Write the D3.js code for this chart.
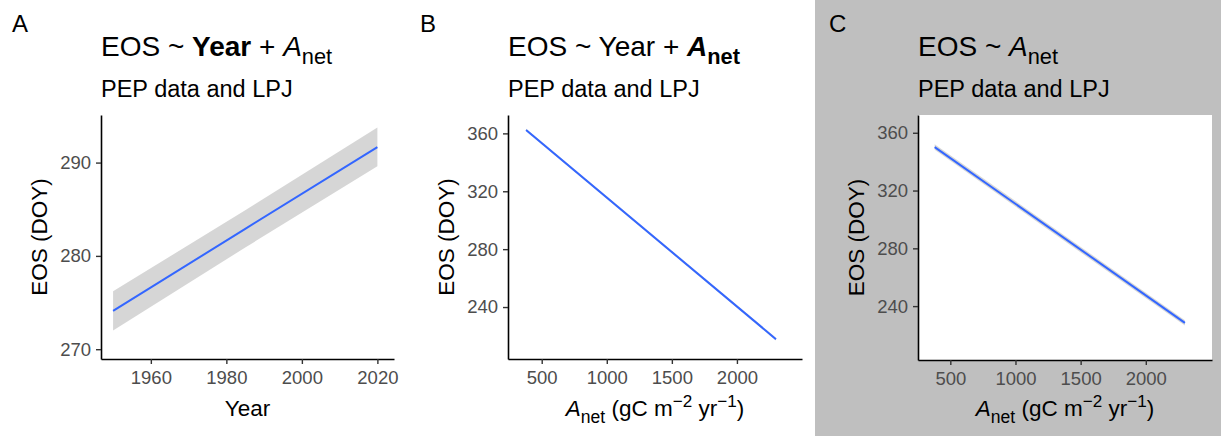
<!DOCTYPE html>
<html lang="en">
<head>
<meta charset="UTF-8">
<script src="https://d3js.org/d3.v7.min.js"></script>
<title>EOS models</title>
<style>
  body { margin: 0; background: #fff; }
  svg text { font-family: "Liberation Sans", Arial, sans-serif; }
</style>
</head>
<body>
<div id="chart"></div>
<script>
// ---- data ----
var yearTicks = [1960, 1980, 2000, 2020];
var eosTicksA = [270, 280, 290];
var anetTicks = [500, 1000, 1500, 2000];
var eosTicksBC = [240, 280, 320, 360];

// panel A: EOS vs Year (fit + confidence band)
var yearA = [1950, 1985, 2020];
var fitA = [274.1, 282.9, 291.65];
var lowA = [272.0, 280.9, 289.6];
var highA = [276.2, 284.9, 293.75];

// panel B: EOS vs Anet (multi model)
var anetB = [380, 2300];
var fitB = [362.3, 217.8];
var lowB = [361.4, 216.9];
var highB = [363.2, 218.7];

// panel C: EOS vs Anet (single predictor)
var anetC = [380, 2300];
var fitC = [350.1, 228.4];
var lowC = [348.2, 226.5];
var highC = [352.0, 230.3];

var W = 1221, H = 436;
var svg = d3.select("#chart").append("svg")
    .attr("width", W).attr("height", H);

// gray background behind panel C
svg.append("rect")
    .attr("x", 815).attr("y", 0)
    .attr("width", W - 815).attr("height", H)
    .attr("fill", "#bfbfbf");

// write a line of mixed-format text with tspans
function richText(g, x, y, size, parts, anchor) {
    var t = g.append("text")
        .attr("x", x).attr("y", y)
        .attr("font-size", size + "px")
        .attr("fill", "#000")
        .attr("text-anchor", anchor || "start");
    var shift = 0;
    parts.forEach(function(p) {
        var s = t.append("tspan").text(p.t);
        var want = 0, fs = size;
        if (p.sub) { want = size * 0.3; fs = size * 0.78; }
        if (p.sup) { want = -size * 0.4; fs = size * 0.76; }
        s.attr("font-size", fs + "px");
        if (want - shift !== 0) s.attr("dy", (want - shift) + "px");
        shift = want;
        if (p.b) s.attr("font-weight", "bold");
        if (p.i) s.attr("font-style", "italic");
    });
    return t;
}

function drawPanel(cfg) {
    var g = svg.append("g");
    var x = d3.scaleLinear().domain(cfg.xDomain).range([cfg.left, cfg.right]);
    var y = d3.scaleLinear().domain(cfg.yDomain).range([cfg.bottom, cfg.top]);

    if (cfg.panelBg) {
        g.append("rect")
            .attr("x", cfg.left).attr("y", cfg.top)
            .attr("width", cfg.right - cfg.left)
            .attr("height", cfg.bottom - cfg.top)
            .attr("fill", "#fff");
    }

    // confidence band
    var band = cfg.xs.map(function(d, i) { return [d, cfg.low[i], cfg.high[i]]; });
    g.append("path")
        .datum(band)
        .attr("fill", "#999999")
        .attr("fill-opacity", 0.4)
        .attr("d", d3.area()
            .x(function(d) { return x(d[0]); })
            .y0(function(d) { return y(d[1]); })
            .y1(function(d) { return y(d[2]); }));

    // fit line
    var fit = cfg.xs.map(function(d, i) { return [d, cfg.fit[i]]; });
    g.append("path")
        .datum(fit)
        .attr("fill", "none")
        .attr("stroke", "#3366FF")
        .attr("stroke-width", 2)
        .attr("d", d3.line()
            .x(function(d) { return x(d[0]); })
            .y(function(d) { return y(d[1]); }));

    // axes
    var xa = g.append("g")
        .attr("transform", "translate(0," + cfg.bottom + ")")
        .call(d3.axisBottom(x).tickValues(cfg.xTicks).tickFormat(d3.format("d"))
            .tickSize(5).tickSizeOuter(0).tickPadding(7));
    var ya = g.append("g")
        .attr("transform", "translate(" + cfg.left + ",0)")
        .call(d3.axisLeft(y).tickValues(cfg.yTicks).tickFormat(d3.format("d"))
            .tickSize(5).tickSizeOuter(0).tickPadding(5));
    [xa, ya].forEach(function(a) {
        a.select(".domain").attr("stroke", "#000").attr("stroke-width", 1.6);
        a.selectAll(".tick line").attr("stroke", "#333").attr("stroke-width", 1.4);
        a.selectAll(".tick text")
            .attr("font-size", "18.5px")
            .attr("fill", "#4d4d4d")
            .attr("font-family", "Liberation Sans, Arial, sans-serif");
    });

    // titles
    richText(g, cfg.tagX, 32, 24, [{t: cfg.tag}]);
    richText(g, cfg.left, 56, 28, cfg.title);
    richText(g, cfg.left, 97, 23.5, [{t: "PEP data and LPJ"}]);
    richText(g, (cfg.left + cfg.right) / 2, 416, 22.5, cfg.xTitle, "middle");

    var yt = g.append("g")
        .attr("transform", "translate(" + (cfg.left - 54) + "," + ((cfg.top + cfg.bottom) / 2) + ") rotate(-90)");
    richText(yt, 0, 0, 22.5, [{t: "EOS (DOY)"}], "middle");
}

var anetTitle = [
    {t: "A", i: true}, {t: "net", sub: true}, {t: " (gC m"},
    {t: "\u22122", sup: true}, {t: " yr"}, {t: "\u22121", sup: true}, {t: ")"}
];

drawPanel({
    tag: "A", tagX: 12,
    left: 101, right: 394, top: 115, bottom: 359,
    xDomain: [1946.8, 2024.4], yDomain: [268.95, 295.1],
    xTicks: yearTicks, yTicks: eosTicksA,
    xs: yearA, fit: fitA, low: lowA, high: highA,
    title: [{t: "EOS ~ "}, {t: "Year", b: true}, {t: " + "}, {t: "A", i: true}, {t: "net", sub: true}],
    xTitle: [{t: "Year"}]
});

drawPanel({
    tag: "B", tagX: 420,
    left: 508, right: 802, top: 115, bottom: 359,
    xDomain: [241, 2500], yDomain: [204.1, 372.7],
    xTicks: anetTicks, yTicks: eosTicksBC,
    xs: anetB, fit: fitB, low: lowB, high: highB,
    title: [{t: "EOS ~ Year + "}, {t: "A", b: true, i: true}, {t: "net", sub: true, b: true}],
    xTitle: anetTitle
});

drawPanel({
    tag: "C", tagX: 829, panelBg: true,
    left: 918, right: 1212, top: 115, bottom: 360,
    xDomain: [252, 2508], yDomain: [202.7, 372.3],
    xTicks: anetTicks, yTicks: eosTicksBC,
    xs: anetC, fit: fitC, low: lowC, high: highC,
    title: [{t: "EOS ~ "}, {t: "A", i: true}, {t: "net", sub: true}],
    xTitle: anetTitle
});
</script>
</body>
</html>
